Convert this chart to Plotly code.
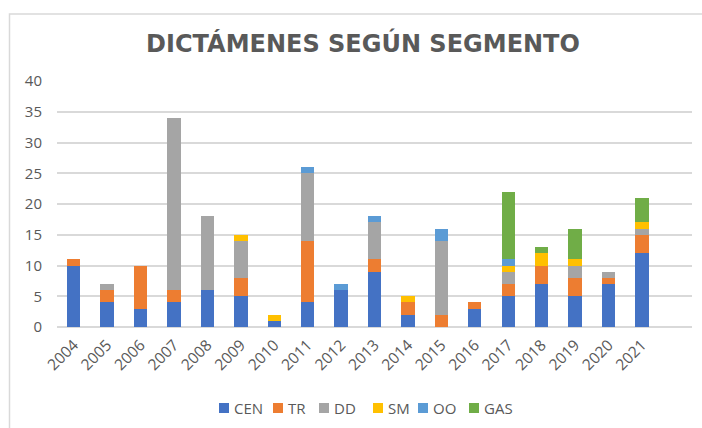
import plotly.graph_objects as go

years = ["2004", "2005", "2006", "2007", "2008", "2009", "2010", "2011", "2012",
         "2013", "2014", "2015", "2016", "2017", "2018", "2019", "2020", "2021"]
CEN = [10, 4, 3, 4, 6, 5, 1, 4, 6, 9, 2, 0, 3, 5, 7, 5, 7, 12]
TR  = [1, 2, 7, 2, 0, 3, 0, 10, 0, 2, 2, 2, 1, 2, 3, 3, 1, 3]
DD  = [0, 1, 0, 28, 12, 6, 0, 11, 0, 6, 0, 12, 0, 2, 0, 2, 1, 1]
SM  = [0, 0, 0, 0, 0, 1, 1, 0, 0, 0, 1, 0, 0, 1, 2, 1, 0, 1]
OO  = [0, 0, 0, 0, 0, 0, 0, 1, 1, 1, 0, 2, 0, 1, 0, 0, 0, 0]
GAS = [0, 0, 0, 0, 0, 0, 0, 0, 0, 0, 0, 0, 0, 11, 1, 5, 0, 4]

series = [("CEN", CEN, "#4472C4"), ("TR", TR, "#ED7D31"), ("DD", DD, "#A5A5A5"),
          ("SM", SM, "#FFC000"), ("OO", OO, "#5B9BD5"), ("GAS", GAS, "#70AD47")]

fig = go.Figure()
for name, vals, color in series:
    fig.add_trace(go.Bar(x=years, y=vals, name=name, marker_color=color,
                         marker_line_width=0, width=0.4, showlegend=False))

W, H = 702, 428
L, R, T, B = 57, 10, 81, 101
pw, ph = W - L - R, H - T - B

def px(x):
    return (x - L) / pw

def py(y):
    return (H - B - y) / ph

# legend (manual, compact like the reference)
legend_marker_x = [219, 273, 319, 373, 418, 469]
legend_y = 408
shapes = [dict(type="rect", xref="paper", yref="paper",
               x0=px(9.5), x1=px(720), y0=py(440), y1=py(14),
               line=dict(color="#D9D9D9", width=1.5), fillcolor="rgba(0,0,0,0)",
               layer="below")]
annotations = []
for (name, _, color), mx in zip(series, legend_marker_x):
    shapes.append(dict(type="rect", xref="paper", yref="paper",
                       x0=px(mx), x1=px(mx + 10), y0=py(legend_y + 5), y1=py(legend_y - 5),
                       line=dict(width=0), fillcolor=color))
    annotations.append(dict(text=name, xref="paper", yref="paper", x=px(mx + 13),
                            y=py(legend_y), xanchor="left", yanchor="middle",
                            showarrow=False,
                            font=dict(family="Open Sans", size=15, color="#595959")))

fig.update_layout(
    width=W, height=H,
    margin=dict(l=L, r=R, t=T, b=B, autoexpand=False),
    barmode="stack",
    plot_bgcolor="white", paper_bgcolor="white",
    font=dict(family="Open Sans", color="#595959", size=14),
    title=dict(text="<b>DICTÁMENES SEGÚN SEGMENTO</b>", x=px(363), xanchor="center",
               xref="paper", y=1 - 44 / H, yanchor="middle",
               font=dict(family="DejaVu Sans", size=24, color="#595959")),
    xaxis=dict(type="category", range=[-0.5, 18.5], tickangle=-45, showgrid=False,
               showline=False, ticks="", automargin=False,
               tickfont=dict(size=15.5, color="#595959"), ticklabelstandoff=5),
    yaxis=dict(range=[0, 40], dtick=5, showgrid=True, gridcolor="#D9D9D9", gridwidth=1.5,
               zeroline=True, zerolinecolor="#D9D9D9", zerolinewidth=1.5,
               ticks="", automargin=False, tickfont=dict(size=15, color="#595959"),
               ticklabelstandoff=14),
    showlegend=False,
    shapes=shapes,
    annotations=annotations,
)

fig.write_html("out.html", config={"displayModeBar": False},
               post_script="document.body.style.margin='0px';")
